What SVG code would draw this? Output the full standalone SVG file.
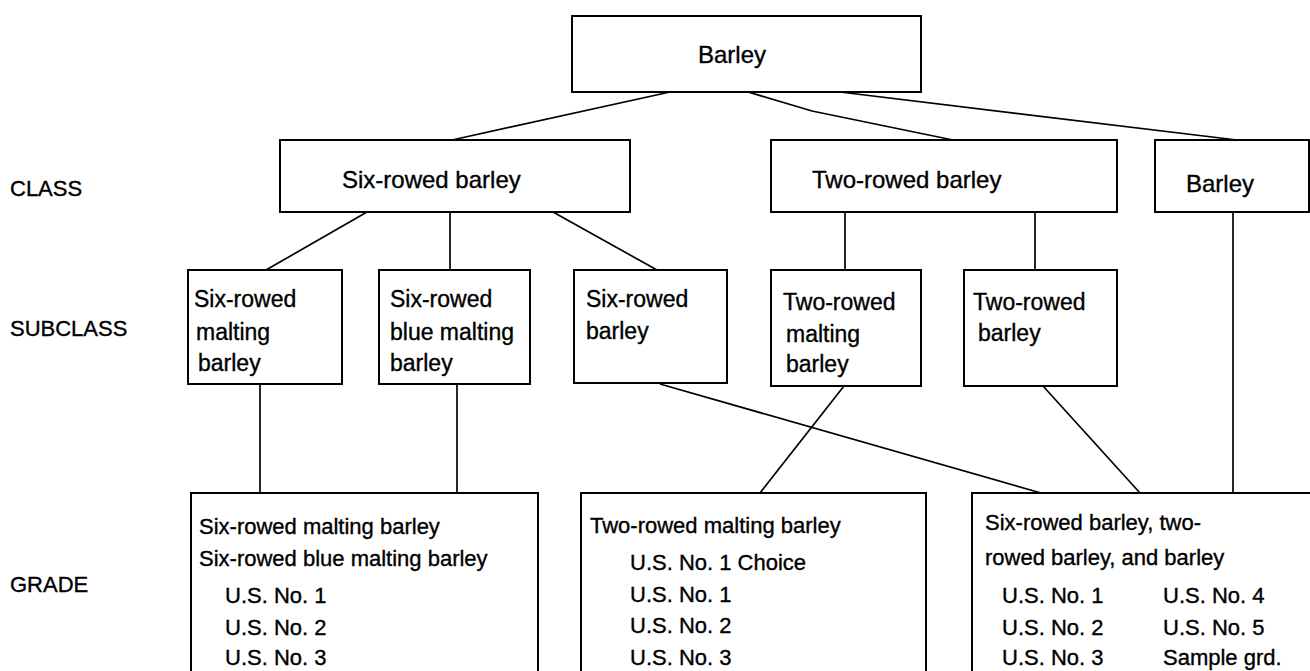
<svg xmlns="http://www.w3.org/2000/svg" width="1310" height="671" viewBox="0 0 1310 671">
<style>
.box{fill:#fff;stroke:#000;stroke-width:2}
.ln{fill:none;stroke:#000;stroke-width:1.7}
text{font-family:"Liberation Sans",Arial,Helvetica,sans-serif;fill:#000;stroke:#000;stroke-width:0.35}
.t24{font-size:24px}
.t23{font-size:23px}
.t22{font-size:22px}
</style>
<rect width="1310" height="671" fill="#fff"/>
<g id="connectors">
<line class="ln" x1="670" y1="92" x2="452" y2="140"/>
<polyline class="ln" points="748,92 812,111 953,140"/>
<line class="ln" x1="840" y1="92" x2="1237" y2="140"/>
<line class="ln" x1="367" y1="212" x2="266" y2="270"/>
<line class="ln" x1="450" y1="212" x2="450" y2="270"/>
<line class="ln" x1="553" y1="212" x2="657" y2="270"/>
<line class="ln" x1="845" y1="212" x2="845" y2="270"/>
<line class="ln" x1="1035" y1="212" x2="1035" y2="270"/>
<line class="ln" x1="1233" y1="212" x2="1233" y2="493"/>
<line class="ln" x1="260" y1="384" x2="260" y2="493"/>
<line class="ln" x1="457" y1="384" x2="457" y2="493"/>
<line class="ln" x1="660" y1="384" x2="1041" y2="493"/>
<line class="ln" x1="844" y1="386" x2="760" y2="493"/>
<line class="ln" x1="1043" y1="386" x2="1140" y2="493"/>
</g>
<g id="labels">
<text class="t22" x="10" y="196">CLASS</text>
<text class="t22" x="10" y="336">SUBCLASS</text>
<text class="t22" x="10" y="592">GRADE</text>
</g>
<g id="root">
<rect class="box" x="572" y="16" width="349" height="76"/>
<text class="t24" x="698" y="63">Barley</text>
</g>
<g id="class-six">
<rect class="box" x="280" y="140" width="350" height="72"/>
<text class="t24" x="342" y="188">Six-rowed barley</text>
</g>
<g id="class-two">
<rect class="box" x="771" y="140" width="346" height="72"/>
<text class="t24" x="812" y="188">Two-rowed barley</text>
</g>
<g id="class-barley">
<rect class="box" x="1155" y="140" width="154" height="72"/>
<text class="t24" x="1186" y="192">Barley</text>
</g>
<g id="sub-six-malting">
<rect class="box" x="188" y="270" width="154" height="114"/>
<text class="t23" x="194" y="307">Six-rowed</text>
<text class="t23" x="196" y="340">malting</text>
<text class="t23" x="198" y="371">barley</text>
</g>
<g id="sub-six-blue">
<rect class="box" x="379" y="270" width="151" height="114"/>
<text class="t23" x="390" y="307">Six-rowed</text>
<text class="t23" x="390" y="340">blue malting</text>
<text class="t23" x="390" y="371">barley</text>
</g>
<g id="sub-six">
<rect class="box" x="574" y="270" width="153" height="113"/>
<text class="t23" x="586" y="307">Six-rowed</text>
<text class="t23" x="586" y="339">barley</text>
</g>
<g id="sub-two-malting">
<rect class="box" x="771" y="270" width="150" height="116"/>
<text class="t23" x="783" y="310">Two-rowed</text>
<text class="t23" x="786" y="342">malting</text>
<text class="t23" x="786" y="372">barley</text>
</g>
<g id="sub-two">
<rect class="box" x="964" y="270" width="153" height="116"/>
<text class="t23" x="973" y="310">Two-rowed</text>
<text class="t23" x="978" y="341">barley</text>
</g>
<g id="grade-six-malting">
<rect class="box" x="191" y="493" width="347" height="200"/>
<text class="t22" x="199" y="534">Six-rowed malting barley</text>
<text class="t22" x="199" y="566">Six-rowed blue malting barley</text>
<text class="t22" x="225" y="603">U.S. No. 1</text>
<text class="t22" x="225" y="635">U.S. No. 2</text>
<text class="t22" x="225" y="665">U.S. No. 3</text>
</g>
<g id="grade-two-malting">
<rect class="box" x="581" y="493" width="345" height="200"/>
<text class="t22" x="590" y="533">Two-rowed malting barley</text>
<text class="t22" x="630" y="570">U.S. No. 1 Choice</text>
<text class="t22" x="630" y="602">U.S. No. 1</text>
<text class="t22" x="630" y="633">U.S. No. 2</text>
<text class="t22" x="630" y="665">U.S. No. 3</text>
</g>
<g id="grade-general">
<rect class="box" x="972" y="493" width="360" height="200"/>
<text class="t22" x="985" y="530">Six-rowed barley, two-</text>
<text class="t22" x="985" y="565">rowed barley, and barley</text>
<text class="t22" x="1002" y="603">U.S. No. 1</text>
<text class="t22" x="1002" y="635">U.S. No. 2</text>
<text class="t22" x="1002" y="665">U.S. No. 3</text>
<text class="t22" x="1163" y="603">U.S. No. 4</text>
<text class="t22" x="1163" y="635">U.S. No. 5</text>
<text class="t22" x="1163" y="665">Sample grd.</text>
</g>
</svg>
